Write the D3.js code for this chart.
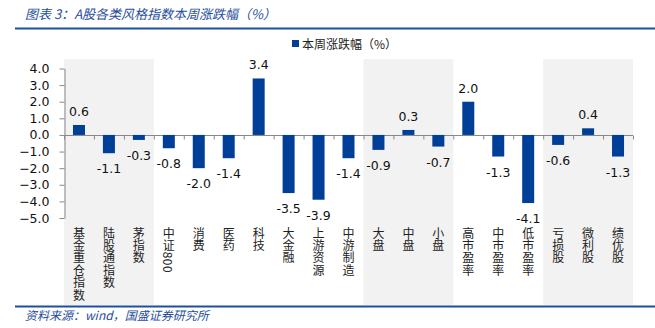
<!DOCTYPE html>
<html><head><meta charset="utf-8">
<script src="https://cdn.jsdelivr.net/npm/d3@7"></script>
<style>body{margin:0;background:#fff}svg{display:block}</style>
</head><body><svg id="c" width="655" height="328"></svg>
<script>
const categories = ["基金重仓指数","陆股通指数","茅指数","中证800","消费","医药","科技","大金融","上游资源","中游制造","大盘","中盘","小盘","高市盈率","中市盈率","低市盈率","亏损股","微利股","绩优股"];
const values = [0.6,-1.1,-0.3,-0.8,-2.0,-1.4,3.4,-3.5,-3.9,-1.4,-0.9,0.3,-0.7,2.0,-1.3,-4.1,-0.6,0.4,-1.3];
const yTicks = [4,3,2,1,0,-1,-2,-3,-4,-5];
const shadedGroups = [[0,2],[10,12],[16,18]];
const seriesName = "本周涨跌幅（%）";
const titleText = "图表 3：A股各类风格指数本周涨跌幅（%）";
const sourceText = "资料来源：wind，国盛证券研究所";

const svg = d3.select("#c");
const blue = "#003f97";
const cjk = "'Noto Sans CJK SC', sans-serif";
const num = "'DejaVu Sans', Verdana, sans-serif";

const x = d3.scaleBand().domain(d3.range(categories.length)).range([64, 633]).paddingInner(0).paddingOuter(0);
const y = d3.scaleLinear().domain([-5, 4]).range([218, 68.5]);

// shading
shadedGroups.forEach(([a,b]) => {
  svg.append("rect").attr("x", x(a)).attr("y", 59).attr("width", x(b)+x.bandwidth()-x(a)).attr("height", 246).attr("fill", "#f2f2f2");
});

// title
svg.append("text").attr("x", 25).attr("y", 19).attr("font-family", cjk).attr("font-size", 13).attr("font-style","italic").attr("fill", "#1f4e9c").text(titleText);
svg.append("line").attr("x1",15).attr("x2",655).attr("y1",28.5).attr("y2",28.5).attr("stroke","#1f4e9c").attr("stroke-width",2);
svg.append("line").attr("x1",15).attr("x2",655).attr("y1",306.5).attr("y2",306.5).attr("stroke","#1f4e9c").attr("stroke-width",2);
svg.append("text").attr("x", 25).attr("y", 320).attr("font-family", cjk).attr("font-size", 12).attr("font-style","italic").attr("fill", "#1f4e9c").text(sourceText);

// legend
svg.append("rect").attr("x", 292).attr("y", 40).attr("width", 7).attr("height", 7).attr("fill", blue);
svg.append("text").attr("x", 302).attr("y", 48.5).attr("font-family", cjk).attr("font-size", 12).attr("fill", "#222").text(seriesName);

// y axis
const yAxis = svg.append("g").attr("transform","translate(64.5,0)")
  .call(d3.axisLeft(y).tickValues(yTicks).tickFormat(d3.format(".1f")).tickSize(5).tickSizeOuter(0));
yAxis.select(".domain").attr("stroke","#888");
yAxis.selectAll(".tick line").attr("stroke","#888");
yAxis.selectAll(".tick text").attr("font-family", num).attr("font-size", 12.5).attr("fill","#111").attr("x",-15);

// zero axis
const xAxis = svg.append("g").attr("transform",`translate(0,${Math.round(y(0))+0.5})`);
xAxis.append("line").attr("x1",64).attr("x2",633).attr("stroke","#888");
xAxis.selectAll("line.t").data(d3.range(categories.length+1)).join("line").attr("class","t")
  .attr("x1", i => (i < categories.length ? x(i) : x(i-1)+x.bandwidth()) + 0.5)
  .attr("x2", i => (i < categories.length ? x(i) : x(i-1)+x.bandwidth()) + 0.5)
  .attr("y1",0).attr("y2",4).attr("stroke","#888");

// bars
const bw = 12;
svg.selectAll("rect.bar").data(values).join("rect").attr("class","bar")
  .attr("x", (d,i) => x(i) + x.bandwidth()/2 - bw/2)
  .attr("y", d => y(Math.max(0,d)))
  .attr("width", bw)
  .attr("height", d => Math.abs(y(d)-y(0)))
  .attr("fill", blue);

// value labels
svg.selectAll("text.val").data(values).join("text").attr("class","val")
  .attr("x", (d,i) => x(i) + x.bandwidth()/2)
  .attr("y", d => d >= 0 ? y(d) - 9 : y(d) + 20)
  .attr("text-anchor","middle").attr("font-family", num).attr("font-size", 12.5).attr("fill","#111")
  .text(d => d.toFixed(1));

// category labels (vertical writing)
svg.selectAll("text.cat").data(categories).join("text").attr("class","cat")
  .attr("x", (d,i) => x(i) + x.bandwidth()/2)
  .attr("y", 227)
  .style("writing-mode", "vertical-rl")
  .style("text-orientation", "mixed")
  .attr("letter-spacing", 0.4)
  .attr("font-family", cjk).attr("font-size", 12).attr("fill","#222")
  .text(d => d);
</script></body></html>
